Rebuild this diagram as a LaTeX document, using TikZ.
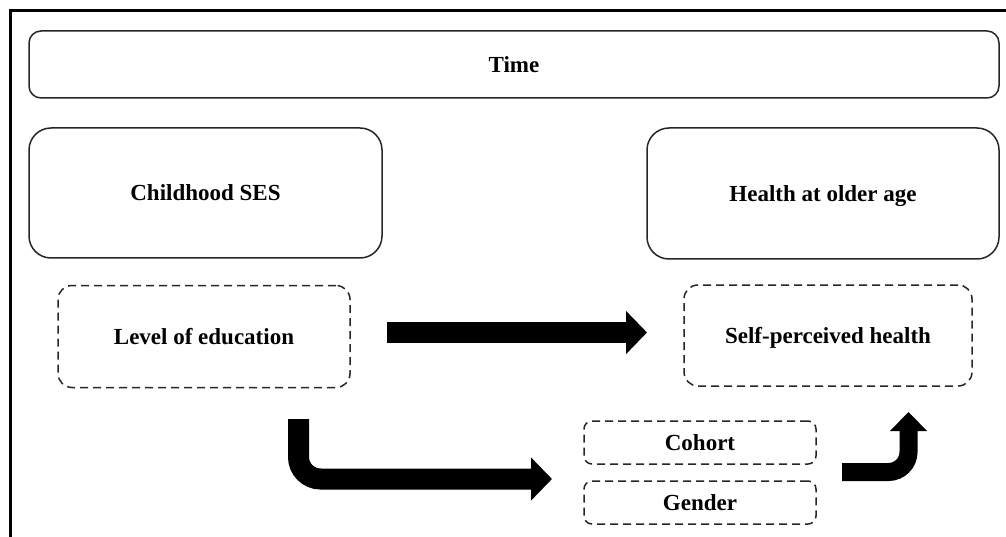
\documentclass[tikz,border=0pt]{standalone}
\usepackage{fontspec}
\setmainfont{Liberation Serif}
\usetikzlibrary{arrows.meta}
\begin{document}
\begin{tikzpicture}[x=1pt,y=-1pt,
  lbl/.style={font=\fontsize{23}{27}\selectfont\bfseries,text depth=0pt},
  solidbox/.style={draw=black!85,line width=1.5pt,rounded corners=#1,lbl,inner sep=0pt},
  dashbox/.style={draw=black!85,line width=1.5pt,dash pattern=on 8pt off 5pt,rounded corners=14pt,lbl,inner sep=0pt},
  bigarrow/.style={line width=#1,black}
]
\useasboundingbox (0,0) rectangle (1006,537);
% frame (top and left)
\draw[line width=3pt] (10,537) -- (10,11) -- (1006,11);
% nodes
\node[solidbox=12pt,minimum width=970pt,minimum height=67pt] (time) at (514,64.5) {Time};
\node[solidbox=22pt,minimum width=353pt,minimum height=130pt] (ses) at (205.5,193) {Childhood SES};
\node[solidbox=22pt,minimum width=352pt,minimum height=131pt] (health) at (823,193.5) {Health at older age};
\node[dashbox,minimum width=292pt,minimum height=102pt] (edu) at (204,336.5) {Level of education};
\node[dashbox,minimum width=288pt,minimum height=101pt] (sph) at (828,335.5) {Self-perceived health};
\node[dashbox,rounded corners=8pt,minimum width=232pt,minimum height=43pt] (cohort) at (700,442.5) {Cohort};
\node[dashbox,rounded corners=8pt,minimum width=232pt,minimum height=43pt] (gender) at (700,502.5) {Gender};
% arrow end points
\coordinate (a1s) at (387,332.5);
\coordinate (a1e) at (647,332.5);
\coordinate (a2s) at (298.5,419);
\coordinate (a2c) at (298.5,479);
\coordinate (a2e) at (552,479);
\coordinate (a3s) at (842,472);
\coordinate (a3c) at (908.5,472);
\coordinate (a3e) at (908.5,412);
% arrows
\draw[bigarrow=21pt,-{Triangle[length=21pt,width=42pt]}] (a1s) -- (a1e);
\draw[bigarrow=21pt,rounded corners=22pt,-{Triangle[length=21pt,width=42pt]}] (a2s) -- (a2c) -- (a2e);
\draw[bigarrow=18pt,rounded corners=20pt,-{Triangle[length=19pt,width=36pt]}] (a3s) -- (a3c) -- (a3e);
\end{tikzpicture}
\end{document}
